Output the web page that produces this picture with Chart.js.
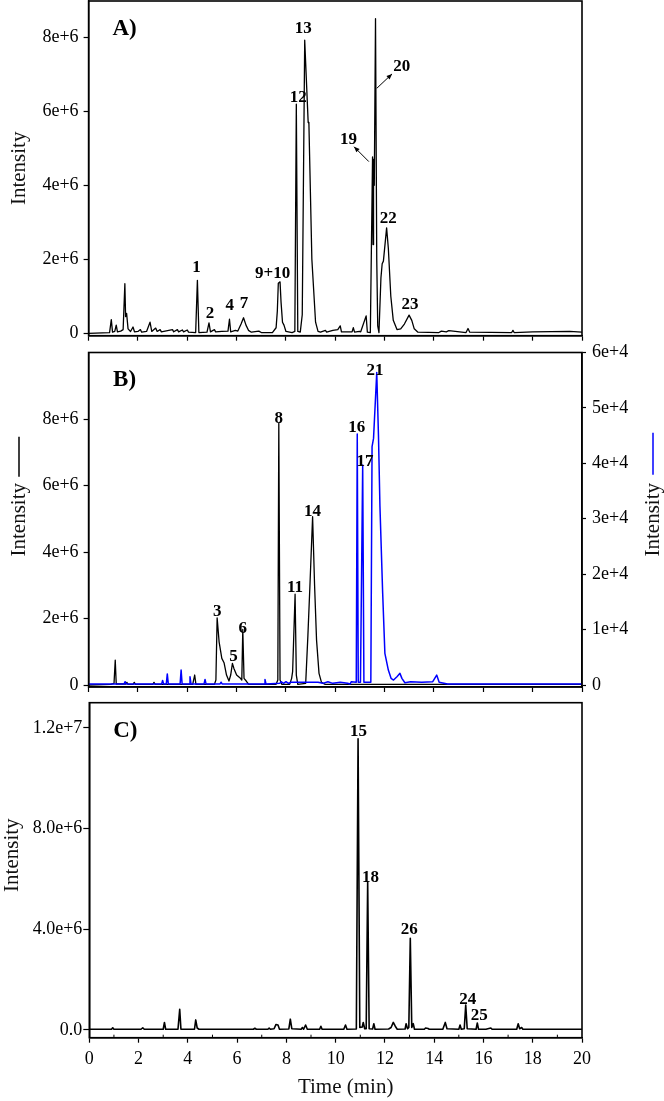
<!DOCTYPE html>
<html>
<head>
<meta charset="utf-8">
<script src="https://cdn.jsdelivr.net/npm/chart.js"></script>
<style>
  body { margin: 0; background: #fff; }
  #wrap { position: relative; width: 664px; height: 1101px; }
  canvas { position: absolute; left: 0; }
</style>
</head>
<body>
<div id="wrap">
  <canvas id="chartA" width="664" height="345" style="top:0px"></canvas>
  <canvas id="chartB" width="664" height="360" style="top:340px"></canvas>
  <canvas id="chartC" width="664" height="411" style="top:690px"></canvas>
</div>
<script>
// ---- data (time in min, intensity in units of 1e6 unless noted) ----
const xTicks = [0, 2, 4, 6, 8, 10, 12, 14, 16, 18, 20];
const xTickLabels = ['0', '2', '4', '6', '8', '10', '12', '14', '16', '18', '20'];
const minorTicksC = [1, 3, 5, 7, 9, 11, 13, 15, 17, 19];

// Panel A
const timeA = [0, 0.85, 0.92, 0.97, 1.06, 1.12, 1.17, 1.30, 1.40, 1.47, 1.50, 1.54, 1.60, 1.70, 1.80, 1.86,
  2.0, 2.1, 2.15, 2.35, 2.49, 2.56, 2.72, 2.78, 2.9, 2.95, 3.1, 3.4, 3.45, 3.6, 3.65, 3.8, 3.85, 4.0, 4.05,
  4.34, 4.41, 4.47, 4.80, 4.88, 4.94, 5.1, 5.15, 5.4, 5.65, 5.71, 5.76, 5.95, 6.05, 6.18, 6.28, 6.38, 6.48,
  6.6, 6.9, 7.0, 7.45, 7.60, 7.65, 7.69, 7.76, 7.80, 7.86, 7.92, 8.0, 8.25, 8.36, 8.42, 8.48, 8.58, 8.66,
  8.76, 8.90, 8.93, 9.05, 9.2, 9.3, 9.4, 9.6, 9.65, 9.9, 10.1, 10.2, 10.25, 10.68, 10.73, 10.78, 10.98, 11.03,
  11.25, 11.30, 11.42, 11.51, 11.53, 11.55, 11.58, 11.63, 11.68, 11.72, 11.77, 11.85, 11.90, 11.95, 12.08,
  12.15, 12.25, 12.35, 12.5, 12.65, 12.8, 12.99, 13.1, 13.2, 13.35, 14.2, 14.3, 14.5, 14.6, 15.3, 15.38, 15.45,
  17.15, 17.2, 17.25, 18.0, 19.5, 20];
const intensityA = [0, 0.02, 0.37, 0.03, 0.05, 0.22, 0.04, 0.06, 0.10, 1.34, 0.45, 0.54, 0.12, 0.05, 0.17, 0.04,
  0.05, 0.10, 0.03, 0.05, 0.30, 0.05, 0.14, 0.05, 0.10, 0.04, 0.06, 0.10, 0.04, 0.10, 0.04, 0.09, 0.04, 0.09, 0.03,
  0.02, 1.43, 0.02, 0.03, 0.28, 0.04, 0.10, 0.04, 0.05, 0.06, 0.38, 0.04, 0.08, 0.06, 0.25, 0.42, 0.22, 0.08,
  0.03, 0.06, 0.02, 0.02, 0.15, 0.60, 1.35, 1.39, 0.85, 0.30, 0.22, 0.05, 0.02, 0.05, 6.19, 0.05, 0.03, 0.50,
  7.92, 5.70, 5.67, 2.0, 0.3, 0.05, 0.03, 0.08, 0.03, 0.08, 0.10, 0.20, 0.04, 0.04, 0.15, 0.03, 0.05, 0.04,
  0.47, 0.03, 0.02, 4.77, 2.4, 4.70, 4.0, 8.5, 2.0, 0.2, 0.02, 1.5, 1.88, 1.95, 2.85,
  2.3, 1.0, 0.35, 0.10, 0.12, 0.25, 0.49, 0.35, 0.12, 0.03, 0.02, 0.06, 0.04, 0.07, 0.02, 0.13, 0.03,
  0.02, 0.08, 0.02, 0.04, 0.05, 0.03];
const yTicksA = [0, 2, 4, 6, 8];
const yTickLabelsA = ['0', '2e+6', '4e+6', '6e+6', '8e+6'];
const peakTextA = ['1', '2', '4', '7', '9+10', '12', '13', '19', '20', '22', '23'];
const peakTimeA = [4.37, 4.92, 5.72, 6.30, 7.46, 8.50, 8.70, 10.53, 12.69, 12.15, 13.03];
const peakLevelA = [1.77, 0.54, 0.74, 0.79, 1.62, 6.38, 8.24, 5.24, 7.21, 3.11, 0.78];
// arrows: [from time, from level, to time, to level] (head at "to")
const arrowsA = [[11.36, 4.64, 10.76, 5.04], [11.68, 6.62, 12.30, 7.01]];

// Panel B, black trace (1e6)
const timeB = [0, 0.9, 1.03, 1.08, 1.12, 1.5, 1.55, 1.6, 1.8, 1.85, 1.9, 2.6, 2.65, 2.7, 4.22, 4.30, 4.35,
  5.10, 5.16, 5.21, 5.29, 5.40, 5.49, 5.59, 5.69, 5.76, 5.83, 5.89, 6.00, 6.13, 6.21, 6.25, 6.30, 6.39, 6.49,
  7.60, 7.67, 7.71, 7.76, 7.83, 8.15, 8.23, 8.27, 8.37, 8.42, 8.48, 8.80, 8.89, 8.97, 9.08, 9.16, 9.24,
  9.34, 9.44, 9.59, 20];
const intensityB = [0, 0.02, 0.05, 0.75, 0.03, 0.03, 0.08, 0.02, 0.02, 0.08, 0.02, 0.02, 0.08, 0.02, 0.02, 0.3, 0.02,
  0.02, 0.15, 2.02, 1.3, 0.8, 0.67, 0.3, 0.12, 0.3, 0.65, 0.5, 0.3, 0.22, 0.15, 1.67, 0.2, 0.12, 0.02,
  0.02, 0.15, 7.87, 0.15, 0.02, 0.02, 0.2, 0.4, 2.73, 0.3, 0.02, 0.05, 1.5, 2.96, 5.06, 3.0, 1.35,
  0.35, 0.08, 0.02, 0.02];
// Panel B, blue trace (units of 1e4)
const timeB2 = [0, 1.44, 1.48, 1.52, 2.96, 3.0, 3.04, 3.15, 3.19, 3.23, 3.71, 3.75, 3.79, 4.07, 4.11, 4.15,
  4.68, 4.72, 4.76, 5.33, 5.37, 5.41, 7.11, 7.15, 7.19, 7.75, 7.8, 7.9, 8.0, 8.1, 8.2, 9.3, 9.5, 9.7, 9.9,
  10.2, 10.5, 10.6, 10.65, 10.85, 10.89, 10.93, 11.02, 11.11, 11.16, 11.44, 11.49, 11.55, 11.68, 11.75,
  11.81, 11.92, 12.01, 12.15, 12.26, 12.36, 12.50, 12.62, 12.70, 12.82, 13.05, 13.5, 13.95, 14.11, 14.21,
  14.55, 16.0, 20];
const intensityB2 = [0.02, 0.02, 0.06, 0.02, 0.02, 0.08, 0.02, 0.02, 0.2, 0.02, 0.02, 0.27, 0.02, 0.02, 0.15, 0.02,
  0.02, 0.10, 0.02, 0.02, 0.05, 0.02, 0.02, 0.10, 0.02, 0.03, 0.06, 0.03, 0.06, 0.03, 0.05, 0.05, 0.03, 0.06, 0.03,
  0.05, 0.03, 0.02, 0.06, 0.05, 4.53, 0.05, 0.05, 3.97, 0.05, 0.05, 4.30, 4.45, 5.64, 4.5,
  3.22, 1.66, 0.57, 0.27, 0.12, 0.09, 0.15, 0.21, 0.12, 0.04, 0.06, 0.05, 0.06, 0.18, 0.05,
  0.02, 0.02, 0.02];
const yTicksB = [0, 2, 4, 6, 8];
const yTickLabelsB = ['0', '2e+6', '4e+6', '6e+6', '8e+6'];
const y2TicksB = [0, 1, 2, 3, 4, 5, 6];
const y2TickLabelsB = ['0', '1e+4', '2e+4', '3e+4', '4e+4', '5e+4', '6e+4'];
const peakTextB = ['3', '5', '6', '8', '11', '14', '16', '17', '21'];
const peakTimeB = [5.21, 5.87, 6.25, 7.71, 8.37, 9.08, 10.87, 11.20, 11.61];
const peakLevelB = [2.21, 0.85, 1.71, 8.0, 2.92, 5.21, 7.75, 6.72, 9.47];

// Panel C (1e6)
const timeC = [0, 0.9, 0.95, 1.0, 2.1, 2.17, 2.23, 3.0, 3.05, 3.1, 3.6, 3.67, 3.72, 4.27, 4.32, 4.38, 4.45,
  6.66, 6.72, 6.78, 7.25, 7.3, 7.35, 7.5, 7.58, 7.66, 7.72, 8.1, 8.16, 8.22, 8.6, 8.65, 8.7, 8.78, 8.85,
  9.35, 9.4, 9.45, 10.33, 10.4, 10.46, 10.84, 10.91, 10.98, 11.08, 11.12, 11.18, 11.24, 11.30, 11.36,
  11.5, 11.55, 11.6, 12.15, 12.25, 12.34, 12.42, 12.5, 12.82, 12.86, 12.92, 12.97, 13.03, 13.09, 13.15,
  13.2, 13.6, 13.65, 13.75, 13.8, 14.35, 14.45, 14.52, 15.0, 15.05, 15.1, 15.22, 15.28, 15.34, 15.7,
  15.75, 15.8, 16.1, 16.3, 16.35, 17.35, 17.41, 17.47, 17.55, 17.6, 20];
const intensityC = [0.03, 0.03, 0.09, 0.03, 0.03, 0.09, 0.03, 0.03, 0.3, 0.03, 0.03, 0.82, 0.03, 0.03, 0.4, 0.08, 0.03,
  0.03, 0.07, 0.03, 0.03, 0.08, 0.03, 0.05, 0.22, 0.2, 0.03, 0.04, 0.43, 0.05, 0.03, 0.1, 0.03, 0.2, 0.03,
  0.03, 0.15, 0.03, 0.03, 0.2, 0.03, 0.04, 11.57, 0.1, 0.12, 0.3, 0.05, 0.05, 5.89, 0.05,
  0.04, 0.25, 0.03, 0.04, 0.1, 0.3, 0.15, 0.03, 0.04, 0.25, 0.05, 0.1, 3.64, 0.1, 0.25,
  0.03, 0.03, 0.08, 0.06, 0.03, 0.03, 0.3, 0.05, 0.03, 0.2, 0.03, 0.05, 0.99, 0.05, 0.03,
  0.28, 0.03, 0.03, 0.08, 0.03, 0.03, 0.25, 0.05, 0.1, 0.03, 0.03];
const yTicksC = [0, 4, 8, 12];
const yTickLabelsC = ['0.0', '4.0e+6', '8.0e+6', '1.2e+7'];
const peakTextC = ['15', '18', '26', '24', '25'];
const peakTimeC = [10.93, 11.41, 12.99, 15.36, 15.83];
const peakLevelC = [11.84, 6.04, 3.97, 1.19, 0.56];

const FONT = "'Liberation Serif', 'Times New Roman', serif";

document.addEventListener("DOMContentLoaded", function () {
  Chart.defaults.font.family = FONT;
  Chart.defaults.color = '#000';

  function points(xs, ys) {
    return xs.map((x, i) => ({ x: x, y: ys[i] }));
  }

  function xAxis(height, showLabels) {
    return {
      type: 'linear', min: 0, max: 20,
      afterBuildTicks: s => { s.ticks = xTicks.map(v => ({ value: v })); },
      afterFit: s => { s.height = height; s.paddingLeft = 0; s.paddingRight = 0; },
      ticks: {
        display: showLabels,
        callback: (v, i) => xTickLabels[i],
        font: { size: 18 }, padding: 6, maxRotation: 0
      },
      grid: { drawOnChartArea: false, tickLength: 5, tickColor: '#000', tickWidth: 1.2 },
      border: { color: '#000', width: 1.5 }
    };
  }

  function yAxis(min, max, ticks, labels, pos, width, tickLen, pad) {
    return {
      type: 'linear', position: pos, min: min, max: max,
      afterBuildTicks: s => { s.ticks = ticks.map(v => ({ value: v })); },
      afterFit: s => { s.width = width; s.paddingTop = 0; s.paddingBottom = 0; },
      ticks: { callback: (v, i) => labels[i], font: { size: 18 }, padding: pad },
      grid: { drawOnChartArea: false, tickLength: tickLen, tickColor: '#000', tickWidth: 1.2 },
      border: { color: '#000', width: 1.5 }
    };
  }

  // box around the plot area
  const frame = {
    id: 'frame',
    afterDraw(chart) {
      const a = chart.chartArea, ctx = chart.ctx;
      ctx.save();
      ctx.strokeStyle = '#000';
      ctx.lineWidth = 1.6;
      ctx.strokeRect(a.left, a.top, a.right - a.left, a.bottom - a.top);
      ctx.restore();
    }
  };

  function vText(ctx, text, x, y, size) {
    ctx.save();
    ctx.translate(x, y);
    ctx.rotate(-Math.PI / 2);
    ctx.font = size + 'px ' + FONT;
    ctx.textAlign = 'center';
    ctx.textBaseline = 'middle';
    ctx.fillStyle = '#111';
    ctx.fillText(text, 0, 0);
    ctx.restore();
  }

  function arrow(ctx, x1, y1, x2, y2) {
    const ang = Math.atan2(y2 - y1, x2 - x1);
    ctx.beginPath();
    ctx.moveTo(x1, y1);
    ctx.lineTo(x2, y2);
    ctx.stroke();
    ctx.beginPath();
    ctx.moveTo(x2, y2);
    ctx.lineTo(x2 - 6 * Math.cos(ang - 0.4), y2 - 6 * Math.sin(ang - 0.4));
    ctx.lineTo(x2 - 6 * Math.cos(ang + 0.4), y2 - 6 * Math.sin(ang + 0.4));
    ctx.closePath();
    ctx.fill();
  }

  // peak numbers, panel letter, arrows and axis titles
  function annotations(panel, texts, times, levels, arrows, extra) {
    return {
      id: 'annotations',
      afterDraw(chart) {
        const ctx = chart.ctx, xs = chart.scales.x, ys = chart.scales.y, a = chart.chartArea;
        ctx.save();
        ctx.fillStyle = '#000';
        ctx.strokeStyle = '#000';
        ctx.lineWidth = 1;
        ctx.textAlign = 'center';
        ctx.textBaseline = 'middle';
        ctx.font = 'bold 17px ' + FONT;
        texts.forEach((t, i) => {
          ctx.fillText(t, xs.getPixelForValue(times[i]), ys.getPixelForValue(levels[i]));
        });
        arrows.forEach(r => {
          arrow(ctx, xs.getPixelForValue(r[0]), ys.getPixelForValue(r[1]),
            xs.getPixelForValue(r[2]), ys.getPixelForValue(r[3]));
        });
        ctx.font = 'bold 23px ' + FONT;
        ctx.fillText(panel, a.left + 36, a.top + 28);
        ctx.restore();
        extra(chart, ctx, a);
      }
    };
  }

  // Panel A
  new Chart(document.getElementById('chartA').getContext('2d'), {
    type: 'line',
    data: { datasets: [{ data: points(timeA, intensityA), borderColor: '#000', borderWidth: 1.3 }] },
    options: {
      responsive: false, animation: false, devicePixelRatio: 1,
      layout: { padding: { top: 1, right: 82, left: 0, bottom: 0 } },
      elements: { point: { radius: 0 }, line: { tension: 0, borderJoinStyle: 'round' } },
      plugins: { legend: { display: false }, tooltip: { enabled: false } },
      scales: {
        x: xAxis(9.3, false),
        y: yAxis(-0.065, 8.98, yTicksA, yTickLabelsA, 'left', 88.6, 5, 5)
      }
    },
    plugins: [frame, annotations('A)', peakTextA, peakTimeA, peakLevelA, arrowsA, (chart, ctx, a) => {
      vText(ctx, 'Intensity', 19, (a.top + a.bottom) / 2, 21);
    })]
  });

  // Panel B
  new Chart(document.getElementById('chartB').getContext('2d'), {
    type: 'line',
    data: {
      datasets: [
        { data: points(timeB2, intensityB2), yAxisID: 'y2', borderColor: '#0000ff', borderWidth: 1.5 },
        { data: points(timeB, intensityB), yAxisID: 'y', borderColor: '#000', borderWidth: 1.3 }
      ]
    },
    options: {
      responsive: false, animation: false, devicePixelRatio: 1,
      layout: { padding: { top: 12.5, right: 0, left: 0, bottom: 0 } },
      elements: { point: { radius: 0 }, line: { tension: 0, borderJoinStyle: 'round' } },
      plugins: { legend: { display: false }, tooltip: { enabled: false } },
      scales: {
        x: xAxis(13, false),
        y: yAxis(-0.06, 10.0, yTicksB, yTickLabelsB, 'left', 88.6, 5, 5),
        y2: yAxis(-0.036, 6.0, y2TicksB, y2TickLabelsB, 'right', 82, 4, 6)
      }
    },
    plugins: [frame, annotations('B)', peakTextB, peakTimeB, peakLevelB, [], (chart, ctx, a) => {
      const cy = (a.top + a.bottom) / 2;
      vText(ctx, 'Intensity', 19, cy, 21);
      vText(ctx, 'Intensity', 653, cy, 21);
      ctx.save();
      ctx.lineWidth = 1.5;
      ctx.strokeStyle = '#000';
      ctx.beginPath(); ctx.moveTo(19, cy - 83); ctx.lineTo(19, cy - 43); ctx.stroke();
      ctx.strokeStyle = '#0000ff';
      ctx.beginPath(); ctx.moveTo(653, cy - 87); ctx.lineTo(653, cy - 45); ctx.stroke();
      ctx.restore();
    })]
  });

  // Panel C
  new Chart(document.getElementById('chartC').getContext('2d'), {
    type: 'line',
    data: { datasets: [{ data: points(timeC, intensityC), borderColor: '#000', borderWidth: 1.6 }] },
    options: {
      responsive: false, animation: false, devicePixelRatio: 1,
      layout: { padding: { top: 12.7, right: 82, left: 0, bottom: 0 } },
      elements: { point: { radius: 0 }, line: { tension: 0, borderJoinStyle: 'round' } },
      plugins: { legend: { display: false }, tooltip: { enabled: false } },
      scales: {
        x: xAxis(63.3, true),
        y: yAxis(-0.306, 13.0, yTicksC, yTickLabelsC, 'left', 89.3, 6, 1)
      }
    },
    plugins: [frame, annotations('C)', peakTextC, peakTimeC, peakLevelC, [], (chart, ctx, a) => {
      const xs = chart.scales.x;
      vText(ctx, 'Intensity', 12, (a.top + a.bottom) / 2 - 15, 21);
      ctx.save();
      ctx.font = '21px ' + FONT;
      ctx.fillStyle = '#111';
      ctx.textAlign = 'center';
      ctx.textBaseline = 'middle';
      ctx.fillText('Time (min)', (a.left + a.right) / 2 + 10, a.bottom + 50);
      ctx.strokeStyle = '#000';
      ctx.lineWidth = 1;
      minorTicksC.forEach(v => {
        const px = xs.getPixelForValue(v);
        ctx.beginPath(); ctx.moveTo(px, a.bottom); ctx.lineTo(px, a.bottom - 3); ctx.stroke();
      });
      ctx.restore();
    })]
  });
});
</script>
</body>
</html>
